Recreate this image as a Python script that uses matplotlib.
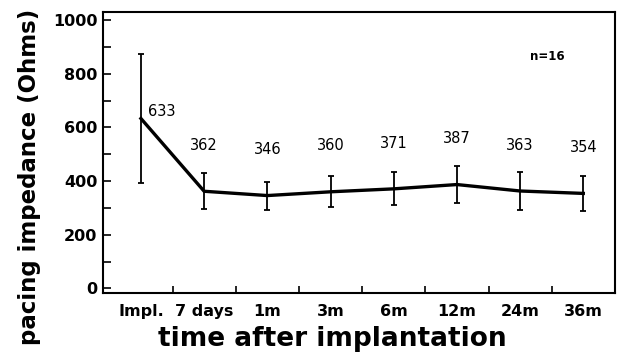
import numpy as np
import matplotlib.pyplot as plt
from matplotlib.ticker import MultipleLocator, FixedLocator

plt.rcParams['font.family'] = ['DejaVu Sans']

# data
labels = ['Impl.', '7 days', '1m', '3m', '6m', '12m', '24m', '36m']
means = [633, 362, 346, 360, 371, 387, 363, 354]
err = [240, 67, 52, 57, 62, 68, 72, 64]
n_text = 'n=16'

x = np.arange(len(labels))

fig = plt.figure(figsize=(6.18, 3.62), dpi=100)
ax = fig.add_axes([0.1667, 0.1906, 0.8283, 0.7764])

ax.errorbar(x, means, yerr=err, color='black', lw=2.4, elinewidth=1.3,
            capsize=2.5, capthick=1.3, ecolor='black')

for xi, m in zip(x, means):
    if xi == 0:
        ax.annotate(str(m), (xi, m), xytext=(5, 5), textcoords='offset points',
                    fontsize=10.5, ha='left', va='center')
    else:
        ax.annotate(str(m), (xi, m), xytext=(0, 33), textcoords='offset points',
                    fontsize=10.5, ha='center', va='center')

ax.text(0.867, 0.84, n_text, transform=ax.transAxes, fontsize=8.5,
        fontweight='bold', ha='center', va='center')

ax.set_xlim(-0.6, 7.5)
ax.set_ylim(-17, 1030)
ax.set_xticks(x)
ax.set_xticklabels(labels, fontsize=11.5, fontweight='bold')
for t in ax.get_yticklabels():
    t.set_fontweight('bold')
ax.xaxis.set_minor_locator(FixedLocator(x[:-1] + 0.5))
ax.yaxis.set_major_locator(MultipleLocator(200))
ax.yaxis.set_minor_locator(MultipleLocator(100))
ax.tick_params(axis='y', which='both', direction='in', length=6, width=1.2,
               labelsize=11.5, pad=4)
ax.tick_params(axis='x', which='major', length=0, pad=8)
ax.tick_params(axis='x', which='minor', direction='in', length=5, width=1.2)
plt.setp(ax.get_yticklabels(), fontweight='bold')
for s in ax.spines.values():
    s.set_linewidth(1.5)

fig.text(0.538, 0.044, 'time after implantation', fontsize=19,
         fontweight='bold', ha='center', va='baseline')
fig.text(0.0485, 0.512, 'pacing impedance (Ohms)', fontsize=16.5,
         fontweight='bold', ha='center', va='center', rotation=90)

fig.savefig('out.png', dpi=100)
